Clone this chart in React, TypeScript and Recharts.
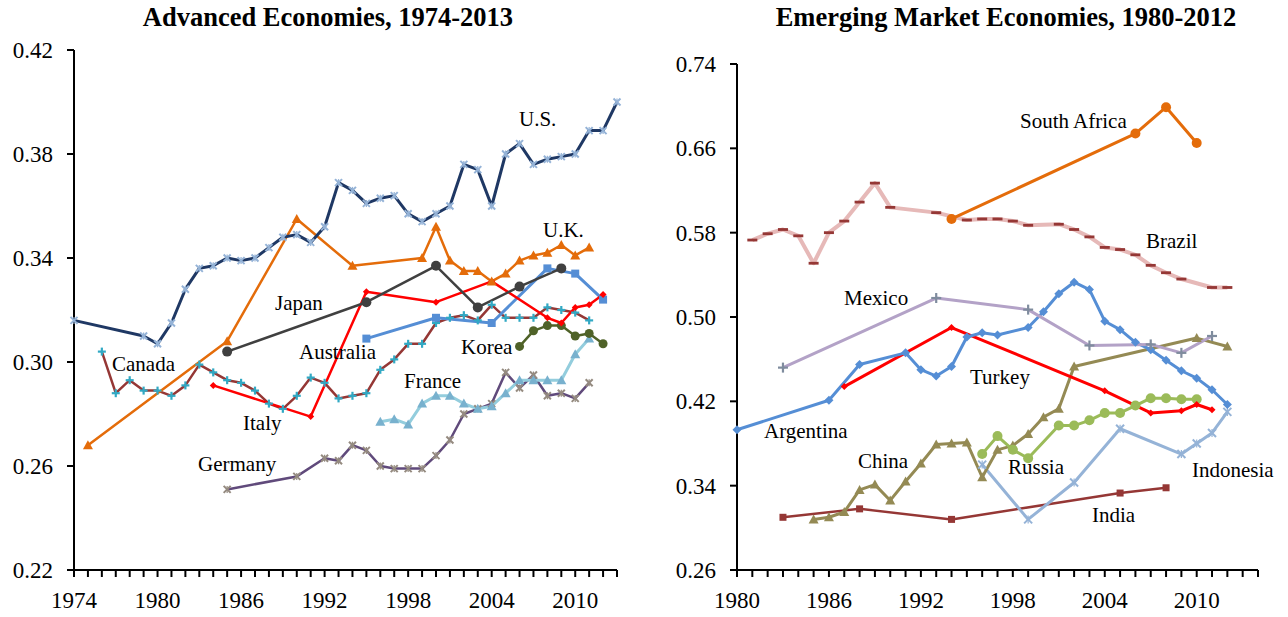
import React from 'react';
import { LineChart, Line, XAxis, YAxis } from 'recharts';

const FONT = '"Liberation Serif", "Times New Roman", serif';

// ---------------- Advanced economies (1974-2013) ----------------
const usYears = [1974, 1979, 1980, 1981, 1982, 1983, 1984, 1985, 1986, 1987, 1988, 1989, 1990, 1991, 1992, 1993, 1994, 1995, 1996, 1997, 1998, 1999, 2000, 2001, 2002, 2003, 2004, 2005, 2006, 2007, 2008, 2009, 2010, 2011, 2012, 2013];
const usValues = [0.316, 0.310, 0.307, 0.315, 0.328, 0.336, 0.337, 0.340, 0.339, 0.340, 0.344, 0.348, 0.349, 0.346, 0.352, 0.369, 0.366, 0.361, 0.363, 0.364, 0.357, 0.354, 0.357, 0.360, 0.376, 0.374, 0.360, 0.380, 0.384, 0.376, 0.378, 0.379, 0.380, 0.389, 0.389, 0.400];

const ukYears = [1975, 1985, 1990, 1994, 1999, 2000, 2001, 2002, 2003, 2004, 2005, 2006, 2007, 2008, 2009, 2010, 2011];
const ukValues = [0.268, 0.308, 0.355, 0.337, 0.340, 0.352, 0.339, 0.335, 0.335, 0.331, 0.334, 0.339, 0.341, 0.342, 0.345, 0.341, 0.344];

const japanYears = [1985, 1995, 2000, 2003, 2006, 2009];
const japanValues = [0.304, 0.323, 0.337, 0.321, 0.329, 0.336];

const italyYears = [1984, 1991, 1995, 2000, 2004, 2008, 2009, 2010, 2011, 2012];
const italyValues = [0.291, 0.279, 0.327, 0.323, 0.331, 0.317, 0.315, 0.321, 0.322, 0.326];

const canadaYears = [1976, 1977, 1978, 1979, 1980, 1981, 1982, 1983, 1984, 1985, 1986, 1987, 1988, 1989, 1990, 1991, 1992, 1993, 1994, 1995, 1996, 1997, 1998, 1999, 2000, 2001, 2002, 2003, 2004, 2005, 2006, 2007, 2008, 2009, 2010, 2011];
const canadaValues = [0.304, 0.288, 0.293, 0.289, 0.289, 0.287, 0.291, 0.299, 0.296, 0.293, 0.292, 0.289, 0.284, 0.282, 0.287, 0.294, 0.292, 0.286, 0.287, 0.288, 0.297, 0.301, 0.307, 0.307, 0.315, 0.317, 0.318, 0.316, 0.322, 0.317, 0.317, 0.317, 0.321, 0.320, 0.319, 0.316];

const australiaYears = [1995, 2000, 2004, 2008, 2010, 2012];
const australiaValues = [0.309, 0.317, 0.315, 0.336, 0.334, 0.324];

const koreaYears = [2006, 2007, 2008, 2009, 2010, 2011, 2012];
const koreaValues = [0.306, 0.312, 0.314, 0.314, 0.310, 0.311, 0.307];

const franceYears = [1996, 1997, 1998, 1999, 2000, 2001, 2002, 2003, 2004, 2005, 2006, 2007, 2008, 2009, 2010, 2011];
const franceValues = [0.277, 0.278, 0.276, 0.284, 0.287, 0.287, 0.284, 0.282, 0.283, 0.288, 0.293, 0.293, 0.293, 0.293, 0.303, 0.309];

const germanyYears = [1985, 1990, 1992, 1993, 1994, 1995, 1996, 1997, 1998, 1999, 2000, 2001, 2002, 2003, 2004, 2005, 2006, 2007, 2008, 2009, 2010, 2011];
const germanyValues = [0.251, 0.256, 0.263, 0.262, 0.268, 0.266, 0.260, 0.259, 0.259, 0.259, 0.264, 0.270, 0.280, 0.282, 0.284, 0.296, 0.290, 0.295, 0.287, 0.288, 0.286, 0.292];

const leftYTicks = [0.22, 0.26, 0.30, 0.34, 0.38, 0.42];
const leftXLabels = [1974, 1980, 1986, 1992, 1998, 2004, 2010];

// ---------------- Emerging market economies (1980-2012) ----------------
const southAfricaYears = [1994, 2006, 2008, 2010];
const southAfricaValues = [0.593, 0.674, 0.699, 0.665];

const brazilYears = [1981, 1982, 1983, 1984, 1985, 1986, 1987, 1988, 1989, 1990, 1993, 1995, 1996, 1997, 1998, 1999, 2001, 2002, 2003, 2004, 2005, 2006, 2007, 2008, 2009, 2011, 2012];
const brazilValues = [0.573, 0.579, 0.583, 0.577, 0.551, 0.580, 0.591, 0.609, 0.627, 0.604, 0.599, 0.592, 0.593, 0.593, 0.591, 0.587, 0.588, 0.583, 0.576, 0.566, 0.564, 0.559, 0.549, 0.542, 0.536, 0.528, 0.528];

const mexicoYears = [1983, 1993, 1999, 2003, 2007, 2009, 2011];
const mexicoValues = [0.452, 0.518, 0.507, 0.473, 0.474, 0.466, 0.482];

const argentinaYears = [1980, 1986, 1988, 1991, 1992, 1993, 1994, 1995, 1996, 1997, 1999, 2000, 2001, 2002, 2003, 2004, 2005, 2006, 2007, 2008, 2009, 2010, 2011, 2012];
const argentinaValues = [0.393, 0.421, 0.455, 0.466, 0.450, 0.444, 0.453, 0.481, 0.485, 0.483, 0.490, 0.505, 0.522, 0.533, 0.526, 0.496, 0.488, 0.476, 0.469, 0.459, 0.449, 0.442, 0.431, 0.417];

const turkeyYears = [1987, 1994, 2004, 2007, 2009, 2010, 2011];
const turkeyValues = [0.434, 0.490, 0.430, 0.409, 0.411, 0.417, 0.412];

const chinaYears = [1985, 1986, 1987, 1988, 1989, 1990, 1991, 1992, 1993, 1994, 1995, 1996, 1997, 1998, 1999, 2000, 2001, 2002, 2010, 2012];
const chinaValues = [0.308, 0.310, 0.315, 0.336, 0.341, 0.326, 0.344, 0.361, 0.379, 0.380, 0.381, 0.348, 0.374, 0.378, 0.389, 0.405, 0.413, 0.453, 0.480, 0.472];

const russiaYears = [1996, 1997, 1998, 1999, 2001, 2002, 2003, 2004, 2005, 2006, 2007, 2008, 2009, 2010];
const russiaValues = [0.370, 0.387, 0.374, 0.366, 0.397, 0.397, 0.402, 0.409, 0.409, 0.416, 0.423, 0.423, 0.422, 0.422];

const indonesiaYears = [1996, 1999, 2002, 2005, 2009, 2010, 2011, 2012];
const indonesiaValues = [0.360, 0.308, 0.343, 0.394, 0.370, 0.380, 0.390, 0.410];

const indiaYears = [1983, 1988, 1994, 2005, 2008];
const indiaValues = [0.310, 0.318, 0.308, 0.333, 0.338];

const rightYTicks = [0.26, 0.34, 0.42, 0.50, 0.58, 0.66, 0.74];
const rightXLabels = [1980, 1986, 1992, 1998, 2004, 2010];

// ---------------- helpers ----------------
type Pt = { year: number; v: number };
const zip = (ys: number[], vs: number[]): Pt[] => ys.map((y, i) => ({ year: y, v: vs[i] }));

const range = (a: number, b: number) => {
  const out: number[] = [];
  for (let i = a; i <= b; i++) out.push(i);
  return out;
};

function marker(kind: string, color: string, s: number) {
  return (p: any) => {
    const { cx, cy, index } = p;
    const key = `m-${index}`;
    if (cx == null || cy == null || isNaN(cx) || isNaN(cy)) return <g key={key} />;
    let el: React.ReactNode = null;
    switch (kind) {
      case 'circle':
        el = <circle cx={cx} cy={cy} r={s} fill={color} />;
        break;
      case 'square':
        el = <rect x={cx - s} y={cy - s} width={2 * s} height={2 * s} fill={color} />;
        break;
      case 'diamond':
        el = <polygon points={`${cx},${cy - s} ${cx + s},${cy} ${cx},${cy + s} ${cx - s},${cy}`} fill={color} />;
        break;
      case 'triangle':
        el = <polygon points={`${cx},${cy - s} ${cx + s},${cy + s * 0.8} ${cx - s},${cy + s * 0.8}`} fill={color} />;
        break;
      case 'x':
        el = (
          <g stroke={color} strokeWidth={2}>
            <line x1={cx - s} y1={cy - s} x2={cx + s} y2={cy + s} />
            <line x1={cx - s} y1={cy + s} x2={cx + s} y2={cy - s} />
            <line x1={cx} y1={cy - s} x2={cx} y2={cy + s} strokeWidth={1.2} />
          </g>
        );
        break;
      case 'plus':
        el = (
          <g stroke={color} strokeWidth={2.2}>
            <line x1={cx - s} y1={cy} x2={cx + s} y2={cy} />
            <line x1={cx} y1={cy - s} x2={cx} y2={cy + s} />
          </g>
        );
        break;
      case 'dash':
        el = <rect x={cx - s} y={cy - 1.4} width={2 * s} height={2.8} fill={color} />;
        break;
    }
    return <g key={key}>{el}</g>;
  };
}

type SeriesDef = {
  name: string;
  data: Pt[];
  stroke: string;
  width: number;
  kind: string;
  mColor: string;
  mSize: number;
};

const leftSeries: SeriesDef[] = [
  { name: 'Germany', data: zip(germanyYears, germanyValues), stroke: '#604A7B', width: 2.5, kind: 'x', mColor: '#958B80', mSize: 3.5 },
  { name: 'France', data: zip(franceYears, franceValues), stroke: '#93CDDD', width: 3, kind: 'triangle', mColor: '#78B1CE', mSize: 5 },
  { name: 'Canada', data: zip(canadaYears, canadaValues), stroke: '#953735', width: 2.5, kind: 'plus', mColor: '#31A9C4', mSize: 4 },
  { name: 'Korea', data: zip(koreaYears, koreaValues), stroke: '#4F6228', width: 2.5, kind: 'circle', mColor: '#4F6228', mSize: 4.5 },
  { name: 'Australia', data: zip(australiaYears, australiaValues), stroke: '#558ED5', width: 3, kind: 'square', mColor: '#558ED5', mSize: 4 },
  { name: 'Italy', data: zip(italyYears, italyValues), stroke: '#FF0000', width: 2.5, kind: 'diamond', mColor: '#FF0000', mSize: 3.5 },
  { name: 'Japan', data: zip(japanYears, japanValues), stroke: '#404040', width: 2.5, kind: 'circle', mColor: '#404040', mSize: 5 },
  { name: 'U.K.', data: zip(ukYears, ukValues), stroke: '#E46C0A', width: 2.5, kind: 'triangle', mColor: '#E46C0A', mSize: 5 },
  { name: 'U.S.', data: zip(usYears, usValues), stroke: '#1F3864', width: 3, kind: 'x', mColor: '#95B3D7', mSize: 3.5 },
];

const rightSeries: SeriesDef[] = [
  { name: 'India', data: zip(indiaYears, indiaValues), stroke: '#953735', width: 2.5, kind: 'square', mColor: '#953735', mSize: 3.5 },
  { name: 'Indonesia', data: zip(indonesiaYears, indonesiaValues), stroke: '#95B3D7', width: 3, kind: 'x', mColor: '#95B3D7', mSize: 4 },
  { name: 'China', data: zip(chinaYears, chinaValues), stroke: '#948A54', width: 3, kind: 'triangle', mColor: '#948A54', mSize: 5 },
  { name: 'Russia', data: zip(russiaYears, russiaValues), stroke: '#9BBB59', width: 3, kind: 'circle', mColor: '#9BBB59', mSize: 5 },
  { name: 'Turkey', data: zip(turkeyYears, turkeyValues), stroke: '#FF0000', width: 3, kind: 'diamond', mColor: '#FF0000', mSize: 3.5 },
  { name: 'Argentina', data: zip(argentinaYears, argentinaValues), stroke: '#558ED5', width: 3, kind: 'diamond', mColor: '#558ED5', mSize: 4.5 },
  { name: 'Mexico', data: zip(mexicoYears, mexicoValues), stroke: '#B3A2C7', width: 3, kind: 'plus', mColor: '#7F8C9E', mSize: 5 },
  { name: 'Brazil', data: zip(brazilYears, brazilValues), stroke: '#E6B9B8', width: 4, kind: 'dash', mColor: '#953735', mSize: 5 },
  { name: 'South Africa', data: zip(southAfricaYears, southAfricaValues), stroke: '#E46C0A', width: 3, kind: 'circle', mColor: '#E46C0A', mSize: 5 },
];

// label placements (text anchor start, baseline)
const leftLabels: [string, number, number][] = [
  ['U.S.', 519, 126], ['U.K.', 543, 237], ['Japan', 275, 310], ['Australia', 299, 359],
  ['Canada', 112, 371], ['Korea', 461, 354], ['France', 404, 388], ['Italy', 243, 430], ['Germany', 198, 471],
];
const rightLabels: [string, number, number][] = [
  ['South Africa', 1020, 128], ['Brazil', 1146, 248], ['Mexico', 844, 305], ['Argentina', 764, 438],
  ['Turkey', 970, 384], ['China', 858, 468], ['Russia', 1008, 474], ['Indonesia', 1192, 477], ['India', 1092, 522],
];

const tickStyle = { fontFamily: FONT, fontSize: 23, fill: '#000' };
const axisLine = { stroke: '#000', strokeWidth: 2 };
const tickLine = { stroke: '#000', strokeWidth: 2 };

function Panel(props: {
  width: number; margin: any; xDomain: [number, number]; xLabels: number[];
  yDomain: [number, number]; yTicks: number[]; series: SeriesDef[];
}) {
  const { width, margin, xDomain, xLabels, yDomain, yTicks, series } = props;
  const allYears = range(xDomain[0], xDomain[1]);
  return (
    <LineChart width={width} height={617} margin={margin}>
      <XAxis
        type="number"
        dataKey="year"
        domain={xDomain}
        ticks={allYears}
        interval={0}
        tickFormatter={(v: number) => (xLabels.includes(v) ? String(v) : '')}
        tick={tickStyle}
        tickSize={7}
        tickMargin={15}
        height={40}
        axisLine={axisLine}
        tickLine={tickLine}
      />
      <YAxis
        type="number"
        domain={yDomain}
        ticks={yTicks}
        interval={0}
        tickFormatter={(v: number) => v.toFixed(2)}
        tick={tickStyle}
        tickSize={7}
        tickMargin={14}
        width={60}
        axisLine={axisLine}
        tickLine={tickLine}
      />
      {series.map((s) => (
        <Line
          key={s.name}
          data={s.data}
          dataKey="v"
          type="linear"
          stroke={s.stroke}
          strokeWidth={s.width}
          strokeLinejoin="round"
          dot={marker(s.kind, s.mColor, s.mSize)}
          activeDot={false}
          isAnimationActive={false}
          connectNulls
        />
      ))}
    </LineChart>
  );
}

export default function App() {
  return (
    <div style={{ position: 'absolute', left: 0, top: 0, width: 1288, height: 617, background: '#fff', overflow: 'hidden' }}>
      <div style={{ position: 'absolute', left: 0, top: 0 }}>
        <Panel
          width={640}
          margin={{ top: 50, right: 23, bottom: 7, left: 14 }}
          xDomain={[1974, 2013]}
          xLabels={leftXLabels}
          yDomain={[0.22, 0.42]}
          yTicks={leftYTicks}
          series={leftSeries}
        />
      </div>
      <div style={{ position: 'absolute', left: 650, top: 0 }}>
        <Panel
          width={638}
          margin={{ top: 64, right: 30, bottom: 7, left: 27 }}
          xDomain={[1980, 2014]}
          xLabels={rightXLabels}
          yDomain={[0.26, 0.74]}
          yTicks={rightYTicks}
          series={rightSeries}
        />
      </div>
      <svg width={1288} height={617} style={{ position: 'absolute', left: 0, top: 0, pointerEvents: 'none' }}>
        <text x={328} y={26} textAnchor="middle" fontFamily={FONT} fontWeight="bold" fontSize={26.5} fill="#000">
          Advanced Economies, 1974-2013
        </text>
        <text x={1006} y={26} textAnchor="middle" fontFamily={FONT} fontWeight="bold" fontSize={26.5} fill="#000">
          Emerging Market Economies, 1980-2012
        </text>
        {[...leftLabels, ...rightLabels].map(([t, x, y]) => (
          <text key={t} x={x} y={y} fontFamily={FONT} fontSize={21} fill="#000">
            {t}
          </text>
        ))}
      </svg>
    </div>
  );
}
